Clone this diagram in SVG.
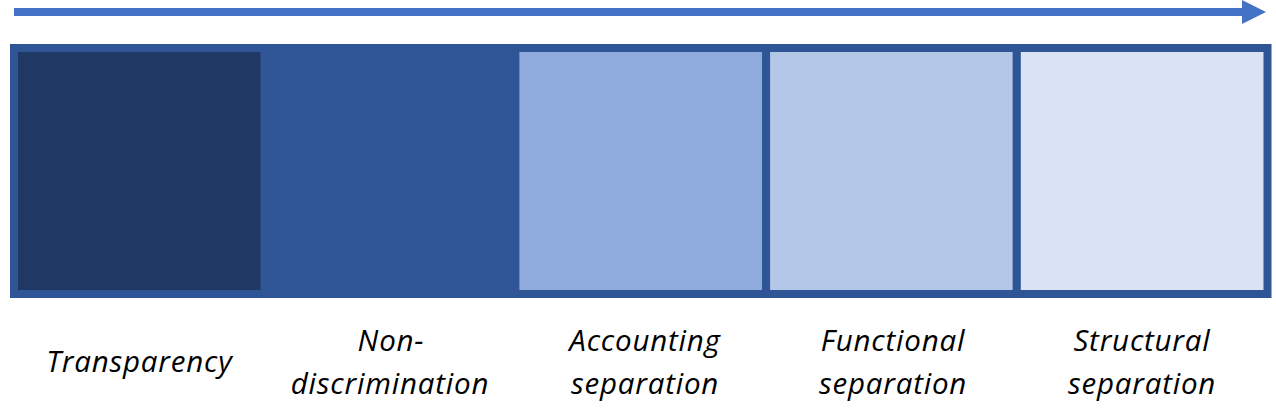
<svg xmlns="http://www.w3.org/2000/svg" width="1276" height="408" viewBox="0 0 1276 408">
<style>
.cell{stroke:#2F5597;stroke-width:8}
.lbl{font-family:"Open Sans","Liberation Sans",sans-serif;font-style:italic;font-size:29.5px;letter-spacing:0.8px;fill:#000;text-anchor:middle}
</style>
<rect width="1276" height="408" fill="#fff"/>
<g id="connectors">
<line x1="14" y1="12" x2="1243" y2="12" stroke="#4472C4" stroke-width="8"/>
<polygon points="1242,0 1266,12 1242,24" fill="#4472C4"/>
</g>
<g id="transparency">
<rect class="cell" x="14" y="48" width="250.7" height="246" fill="#203864"/>
<text class="lbl" x="139.4" y="372">Transparency</text>
</g>
<g id="non-discrimination">
<rect class="cell" x="264.7" y="48" width="250.7" height="246" fill="#2F5597"/>
<text class="lbl" x="391" y="351">Non-</text>
<text class="lbl" x="390" y="394">discrimination</text>
</g>
<g id="accounting-separation">
<rect class="cell" x="515.4" y="48" width="250.7" height="246" fill="#8FAADC"/>
<text class="lbl" x="645" y="351">Accounting</text>
<text class="lbl" x="645" y="394">separation</text>
</g>
<g id="functional-separation">
<rect class="cell" x="766.1" y="48" width="250.7" height="246" fill="#B4C7E7"/>
<text class="lbl" x="893" y="351">Functional</text>
<text class="lbl" x="893" y="394">separation</text>
</g>
<g id="structural-separation">
<rect class="cell" x="1016.8" y="48" width="250.7" height="246" fill="#DAE3F3"/>
<text class="lbl" x="1142" y="351">Structural</text>
<text class="lbl" x="1142" y="394">separation</text>
</g>
</svg>
